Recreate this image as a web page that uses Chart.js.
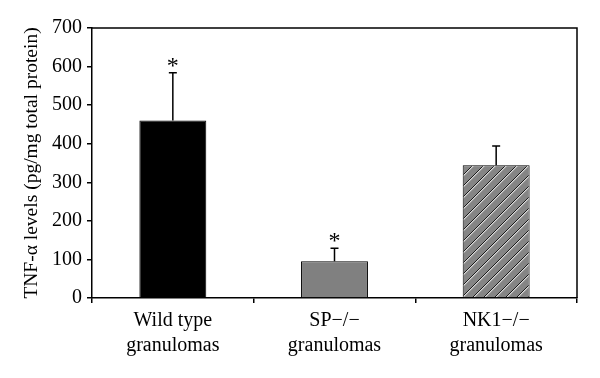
<!DOCTYPE html>
<html>
<head>
<meta charset="utf-8">
<script src="https://cdn.jsdelivr.net/npm/chart.js@4"></script>
<style>
html,body{margin:0;padding:0;background:#fff;}
#wrap{width:600px;height:378px;position:relative;}
</style>
</head>
<body>
<div id="wrap"><canvas id="c" width="600" height="378"></canvas></div>
<script>
const categories = [['Wild type','granulomas'], ['SP\u2212/\u2212','granulomas'], ['NK1\u2212/\u2212','granulomas']];
const values = [460, 95, 344];
const errorTops = [584, 129, 394];
const stars = ['*', '*', ''];
const yTicks = [0, 100, 200, 300, 400, 500, 600, 700];
const yTitle = 'TNF-\u03b1 levels (pg/mg total protein)';

function hatch() {
  const s = 11;
  const c = document.createElement('canvas');
  c.width = s; c.height = s;
  const g = c.getContext('2d');
  g.fillStyle = '#858585';
  g.fillRect(0, 0, s, s);
  const draw = (off, col) => {
    g.strokeStyle = col; g.lineWidth = 1;
    for (const d of [-s, 0, s]) {
      g.beginPath();
      g.moveTo(d + off, s);
      g.lineTo(d + off + s, 0);
      g.stroke();
    }
  };
  draw(0, '#1a1a1a');
  draw(1.3, '#ffffff');
  return g.createPattern(c, 'repeat');
}

const ctx = document.getElementById('c').getContext('2d');

const extras = {
  id: 'extras',
  afterDatasetsDraw(chart) {
    const c = chart.ctx;
    const meta = chart.getDatasetMeta(0);
    const y = chart.scales.y;
    c.save();
    c.strokeStyle = '#000';
    c.lineWidth = 1.5;
    meta.data.forEach((bar, i) => {
      const x = bar.x;
      const y0 = y.getPixelForValue(values[i]);
      const y1 = y.getPixelForValue(errorTops[i]);
      c.beginPath();
      c.moveTo(x, y0); c.lineTo(x, y1);
      c.moveTo(x - 4, y1); c.lineTo(x + 4, y1);
      c.stroke();
      if (stars[i]) {
        c.fillStyle = '#000';
        c.font = '24px "Liberation Serif"';
        c.textAlign = 'center';
        c.textBaseline = 'alphabetic';
        c.fillText(stars[i], x, y1 - 0);
      }
    });
    const a = chart.chartArea;
    c.lineWidth = 1.5;
    c.beginPath();
    c.moveTo(a.left, a.top); c.lineTo(a.right, a.top); c.lineTo(a.right, a.bottom);
    c.stroke();
    c.restore();
  }
};

new Chart(ctx, {
  type: 'bar',
  data: {
    labels: categories,
    datasets: [{
      data: values,
      backgroundColor: ['#000000', '#808080', hatch()],
      borderColor: '#000',
      borderWidth: 1,
      categoryPercentage: 1,
      barPercentage: 0.414
    }]
  },
  options: {
    responsive: false,
    animation: false,
    layout: { padding: { top: 28, right: 23, left: 0, bottom: 0 } },
    plugins: { legend: { display: false }, tooltip: { enabled: false } },
    scales: {
      x: {
        afterFit(s) { s.height = 80; },
        grid: { display: true, drawOnChartArea: false, tickLength: 5, color: '#000', lineWidth: 1.5, offset: true },
        border: { color: '#000', width: 1.5 },
        ticks: { color: '#000', font: { family: 'Liberation Serif', size: 20, lineHeight: 1.27 }, padding: 5, maxRotation: 0 }
      },
      y: {
        min: 0, max: 700,
        afterFit(s) { s.width = 92; },
        afterBuildTicks(s) { s.ticks = yTicks.map(v => ({ value: v })); },
        grid: { display: true, drawOnChartArea: false, tickLength: 5, color: '#000', lineWidth: 1.5 },
        border: { color: '#000', width: 1.5 },
        ticks: { color: '#000', font: { family: 'Liberation Serif', size: 20 }, padding: 5 },
        title: { display: true, text: yTitle, color: '#000', font: { family: 'Liberation Serif', size: 19.5 }, padding: { top: 20, bottom: 0 } }
      }
    }
  },
  plugins: [extras]
});
</script>
</body>
</html>
